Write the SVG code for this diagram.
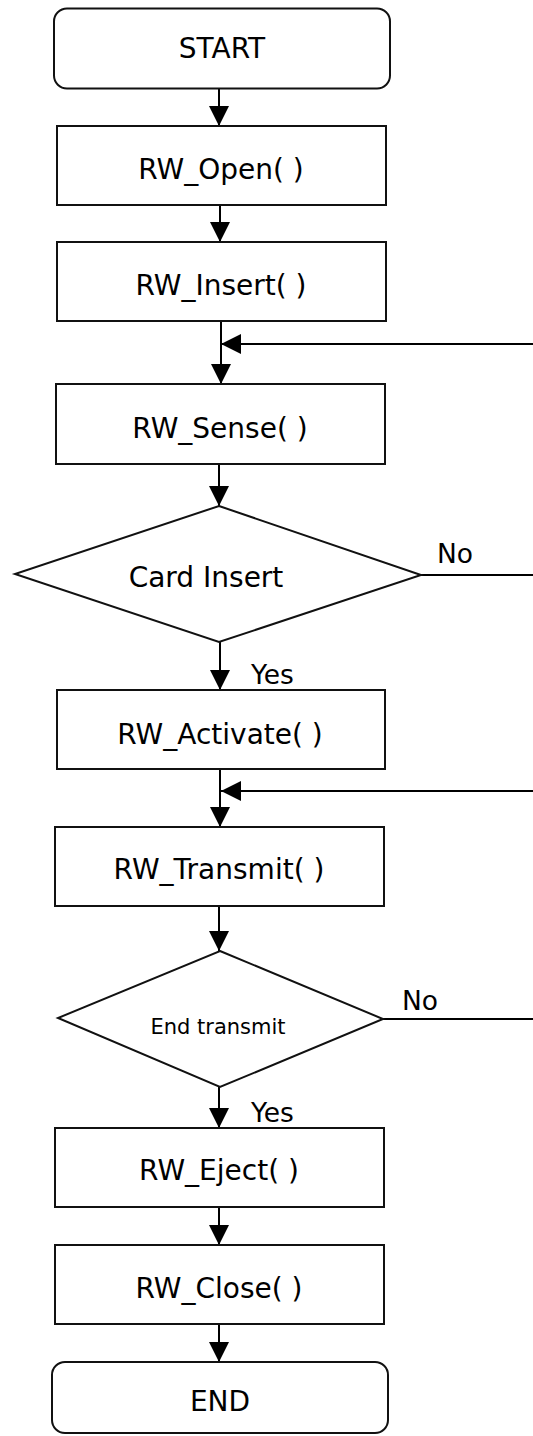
<svg xmlns="http://www.w3.org/2000/svg" width="533" height="1436" viewBox="0 0 533 1436">
  <defs>
    <style>
      .box { fill: #fff; stroke: #111; stroke-width: 2; }
      .lbl { font-family: "DejaVu Sans", Verdana, sans-serif; font-size: 28px; fill: #000; text-anchor: middle; }
      .small { font-family: "DejaVu Sans", Verdana, sans-serif; font-size: 21px; fill: #000; }
      .tag { font-family: "DejaVu Sans", Verdana, sans-serif; font-size: 26.5px; fill: #000; }
      .edge { fill: none; stroke: #000; stroke-width: 2; }
      .arr { marker-end: url(#head); }
    </style>
    <marker id="head" viewBox="0 0 20 20" refX="20" refY="10" markerWidth="20" markerHeight="20" markerUnits="userSpaceOnUse" orient="auto">
      <path d="M0,0 L20,10 L0,20 z" fill="#000"/>
    </marker>
  </defs>
  <rect width="533" height="1436" fill="#fff"/>

  <!-- connectors -->
  <g id="connectors">
    <line class="edge arr" x1="219" y1="89" x2="219" y2="126"/>
    <line class="edge arr" x1="220" y1="205" x2="220" y2="242"/>
    <line class="edge arr" x1="221" y1="321" x2="221" y2="384"/>
    <line class="edge arr" x1="533" y1="344" x2="221" y2="344"/>
    <line class="edge arr" x1="219" y1="464" x2="219" y2="506"/>
    <line class="edge" x1="421" y1="575" x2="533" y2="575"/>
    <line class="edge arr" x1="220" y1="642" x2="220" y2="690"/>
    <line class="edge arr" x1="220" y1="769" x2="220" y2="827"/>
    <line class="edge arr" x1="533" y1="791" x2="221" y2="791"/>
    <line class="edge arr" x1="219" y1="906" x2="219" y2="951"/>
    <line class="edge" x1="383" y1="1019" x2="533" y2="1019"/>
    <line class="edge arr" x1="219" y1="1087" x2="219" y2="1128"/>
    <line class="edge arr" x1="219" y1="1207" x2="219" y2="1245"/>
    <line class="edge arr" x1="219" y1="1324" x2="219" y2="1362"/>
    <text class="tag" x="437" y="563">No</text>
    <text class="tag" x="251" y="684">Yes</text>
    <text class="tag" x="402" y="1010">No</text>
    <text class="tag" x="251" y="1122">Yes</text>
  </g>

  <g id="start">
    <rect class="box" x="54" y="8.5" width="336" height="80" rx="13"/>
    <text class="lbl" x="222" y="58">START</text>
  </g>
  <g id="rw-open">
    <rect class="box" x="57" y="126" width="329" height="79"/>
    <text class="lbl" x="221" y="179">RW_Open( )</text>
  </g>
  <g id="rw-insert">
    <rect class="box" x="57" y="242" width="329" height="79"/>
    <text class="lbl" x="221" y="295">RW_Insert( )</text>
  </g>
  <g id="rw-sense">
    <rect class="box" x="56" y="384" width="329" height="80"/>
    <text class="lbl" x="220" y="438">RW_Sense( )</text>
  </g>
  <g id="card-insert">
    <polygon class="box" points="219,506 421,575 219,642 15,574"/>
    <text class="lbl" x="206" y="587">Card Insert</text>
  </g>
  <g id="rw-activate">
    <rect class="box" x="57" y="690" width="328" height="79"/>
    <text class="lbl" x="220" y="744">RW_Activate( )</text>
  </g>
  <g id="rw-transmit">
    <rect class="box" x="55" y="827" width="329" height="79"/>
    <text class="lbl" x="219" y="879">RW_Transmit( )</text>
  </g>
  <g id="end-transmit">
    <polygon class="box" points="220,951 383,1019 220,1087 58,1018"/>
    <text class="small" x="218" y="1034" text-anchor="middle">End transmit</text>
  </g>
  <g id="rw-eject">
    <rect class="box" x="55" y="1128" width="329" height="79"/>
    <text class="lbl" x="219" y="1180">RW_Eject( )</text>
  </g>
  <g id="rw-close">
    <rect class="box" x="55" y="1245" width="329" height="79"/>
    <text class="lbl" x="219" y="1298">RW_Close( )</text>
  </g>
  <g id="end">
    <rect class="box" x="52" y="1362" width="336" height="71" rx="13"/>
    <text class="lbl" x="220" y="1411">END</text>
  </g>
</svg>
